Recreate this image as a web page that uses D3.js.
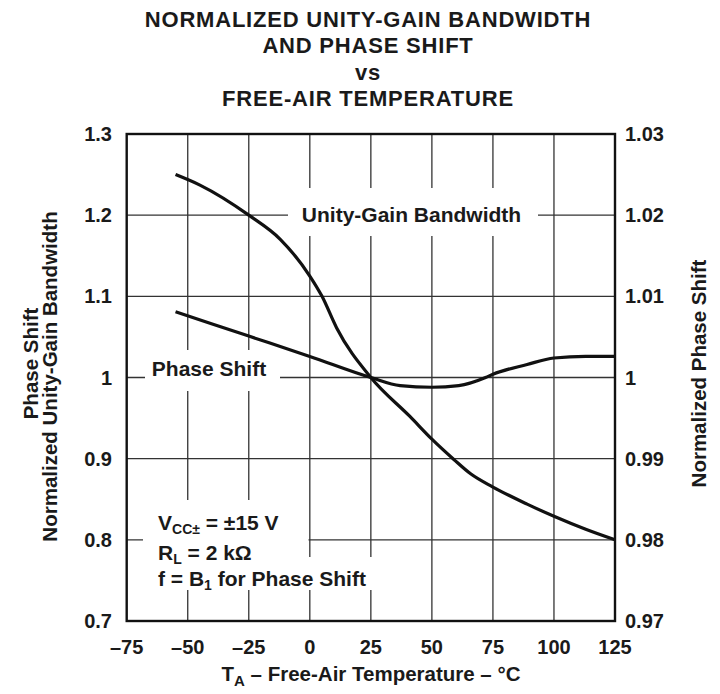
<!DOCTYPE html>
<html><head><meta charset="utf-8">
<script src="https://cdn.jsdelivr.net/npm/d3@7"></script>
<style>body{margin:0;background:#fff}svg{display:block}text{font-family:"Liberation Sans",Arial,sans-serif;font-weight:bold;fill:#1a1a1a}</style>
</head><body><svg id="c" width="720" height="694"></svg>
<script>
const titleLines = ["NORMALIZED UNITY-GAIN BANDWIDTH","AND PHASE SHIFT","vs","FREE-AIR TEMPERATURE"];
const xTicks = [-75,-50,-25,0,25,50,75,100,125];
const yLeftTicks = [0.7,0.8,0.9,1.0,1.1,1.2,1.3];
const yRightTicks = [0.97,0.98,0.99,1.0,1.01,1.02,1.03];
const bwTemps = [-55,-45,-25,-12,0,5,11,25,41,50,59,66,75,89,100,113,125];
const bwValues = [1.25,1.237,1.20,1.17,1.125,1.10,1.061,1.0,0.952,0.924,0.899,0.881,0.865,0.844,0.829,0.813,0.80];
const psTemps = [-55,-25,0,25,37,50,61,72,75,89,100,113,125];
const psValues = [1.0081,1.0051,1.0026,1.0,0.999,0.9988,0.999,1.0,1.0004,1.0016,1.0024,1.0026,1.0026];

const L=126.7,R=615,T=134,B=621;
const svg=d3.select("#c");
const x=d3.scaleLinear().domain([-75,125]).range([L,R]);
const yL=d3.scaleLinear().domain([0.7,1.3]).range([B,T]);
const yR=d3.scaleLinear().domain([0.97,1.03]).range([B,T]);
const fmtL=d=>d===1?"1":d3.format(".1f")(d);
const fmtR=d=>Math.abs(d-1)<1e-9?"1":d3.format(".2f")(d);

// title
svg.selectAll("text.title").data(titleLines).join("text").attr("class","title")
 .attr("x",368).attr("y",(d,i)=>27+i*26.4).attr("text-anchor","middle")
 .style("font-size","22px").style("letter-spacing","0.8px").text(d=>d);

// grid
const g=svg.append("g");
g.selectAll("line.vx").data(xTicks.slice(1,-1)).join("line")
 .attr("x1",d=>x(d)).attr("x2",d=>x(d)).attr("y1",T).attr("y2",B).attr("stroke","#333").attr("stroke-width",1.3);
g.selectAll("line.hy").data(yLeftTicks.slice(1,-1)).join("line")
 .attr("x1",L).attr("x2",R).attr("y1",d=>yL(d)).attr("y2",d=>yL(d)).attr("stroke","#333").attr("stroke-width",1.3);

// masks behind labels
const masks=[[288,188,250,48],[145,350,135,41],[143,500,165.5,90],[150,557,228,33]];
svg.selectAll("rect.m").data(masks).join("rect").attr("x",d=>d[0]).attr("y",d=>d[1]).attr("width",d=>d[2]).attr("height",d=>d[3]).attr("fill","#fff");

// curves
const line=d3.line().curve(d3.curveMonotoneX);
svg.append("path").attr("d",line(bwTemps.map((t,i)=>[x(t),yL(bwValues[i])]))).attr("fill","none").attr("stroke","#111").attr("stroke-width",3.2);
svg.append("path").attr("d",line(psTemps.map((t,i)=>[x(t),yR(psValues[i])]))).attr("fill","none").attr("stroke","#111").attr("stroke-width",3.2);

// frame
svg.append("rect").attr("x",L).attr("y",T).attr("width",R-L).attr("height",B-T).attr("fill","none").attr("stroke","#111").attr("stroke-width",2.4);

// tick labels
svg.selectAll("text.xl").data(xTicks).join("text").attr("x",d=>x(d)).attr("y",654).attr("text-anchor","middle").style("font-size","20px").text(d=>d<0?"\u2013"+Math.abs(d):d);
svg.selectAll("text.yl").data(yLeftTicks).join("text").attr("x",112).attr("y",d=>yL(d)+7).attr("text-anchor","end").style("font-size","20px").text(fmtL);
svg.selectAll("text.yr").data(yRightTicks).join("text").attr("x",625).attr("y",d=>yR(d)+7).attr("text-anchor","start").style("font-size","20px").text(fmtR);

// in-plot labels
svg.append("text").attr("x",411.5).attr("y",221.5).attr("text-anchor","middle").style("font-size","21px").text("Unity-Gain Bandwidth");
svg.append("text").attr("x",209).attr("y",375.5).attr("text-anchor","middle").style("font-size","21px").text("Phase Shift");
const p1=svg.append("text").attr("x",158).attr("y",530).style("font-size","21px");
p1.append("tspan").text("V");p1.append("tspan").attr("dy",4).style("font-size","14px").text("CC\u00B1");p1.append("tspan").attr("dy",-4).text(" = \u00B115 V");
const p2=svg.append("text").attr("x",158).attr("y",560).style("font-size","21px");
p2.append("tspan").text("R");p2.append("tspan").attr("dy",4).style("font-size","14px").text("L");p2.append("tspan").attr("dy",-4).text(" = 2 k\u03A9");
const p3=svg.append("text").attr("x",158).attr("y",586).style("font-size","21px");
p3.append("tspan").text("f = B");p3.append("tspan").attr("dy",4).style("font-size","14px").text("1");p3.append("tspan").attr("dy",-4).text(" for Phase Shift");

// axis titles
const xt=svg.append("text").attr("x",371).attr("y",681).attr("text-anchor","middle").style("font-size","20.5px");
xt.append("tspan").text("T");xt.append("tspan").attr("dy",5).style("font-size","15px").text("A");xt.append("tspan").attr("dy",-5).text(" \u2013 Free-Air Temperature \u2013 \u00B0C");
svg.append("text").attr("transform","translate(38,363.5) rotate(-90)").attr("text-anchor","middle").style("font-size","20.5px").text("Phase Shift");
svg.append("text").attr("transform","translate(57,376.5) rotate(-90)").attr("text-anchor","middle").style("font-size","20.5px").text("Normalized Unity-Gain Bandwidth");
svg.append("text").attr("transform","translate(706,373.5) rotate(-90)").attr("text-anchor","middle").style("font-size","20.5px").text("Normalized Phase Shift");
</script></body></html>
